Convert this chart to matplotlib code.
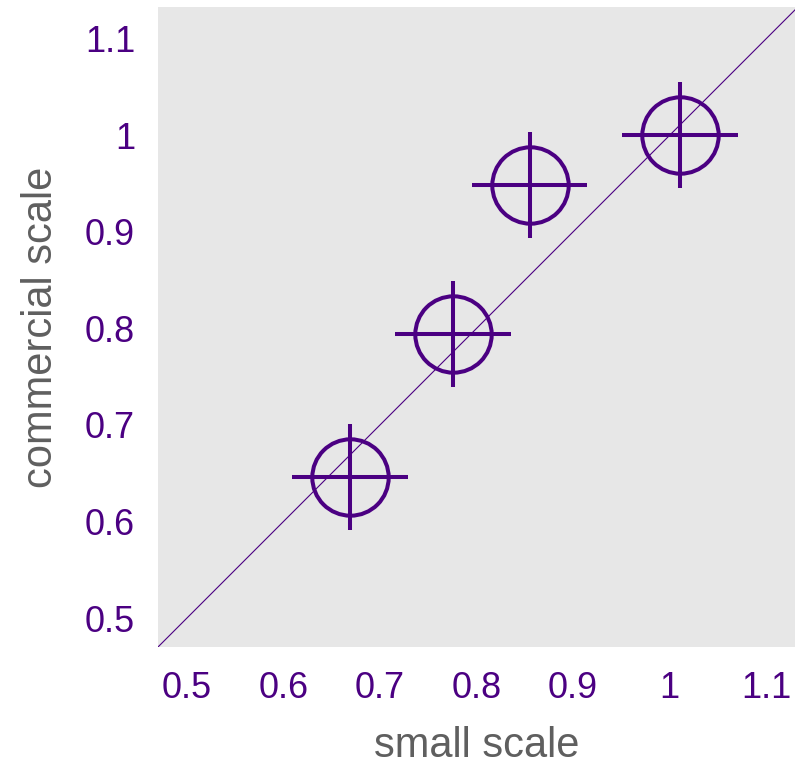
import matplotlib
matplotlib.use('Agg')
import matplotlib.pyplot as plt

# data
small_scale = [0.669, 0.776, 0.855, 1.011]
commercial_scale = [0.646, 0.794, 0.949, 1.0]
small_err = [0.06, 0.06, 0.06, 0.06]
commercial_err = [0.055, 0.055, 0.055, 0.055]
ticks = [0.5, 0.6, 0.7, 0.8, 0.9, 1.0, 1.1]
tick_labels = ['0.5', '0.6', '0.7', '0.8', '0.9', '1', '1.1']
xlims = (0.470, 1.130)
ylims = (0.470, 1.133)

PURPLE = '#4B0082'
GREY = '#5f5f5f'

plt.rcParams['font.family'] = ['Liberation Sans', 'DejaVu Sans']

fig = plt.figure(figsize=(7.95, 7.67), dpi=100)
ax = fig.add_axes([158 / 795, 120 / 767, 637 / 795, 640 / 767])
ax.set_facecolor('#e7e7e7')

# y = x reference line
ax.plot([0.4, 1.2], [0.4, 1.2], color=PURPLE, lw=0.8, zorder=1)
ax.errorbar(small_scale, commercial_scale, xerr=small_err, yerr=commercial_err,
            fmt='o', ms=55, mfc='none', mec=PURPLE, mew=2.9,
            ecolor=PURPLE, elinewidth=2.9, capsize=0, zorder=3)

ax.set_xlim(xlims)
ax.set_ylim(ylims)
ax.set_xticks(ticks)
ax.set_xticklabels(tick_labels)
ax.set_yticks(ticks)
ax.set_yticklabels(tick_labels)
ax.tick_params(length=0, labelsize=26, labelcolor=PURPLE)
ax.tick_params(axis='x', pad=17)
ax.tick_params(axis='y', pad=16.5)
for s in ax.spines.values():
    s.set_visible(False)

ax.set_xlabel('small scale', fontsize=30, color=GREY, labelpad=15)
ax.set_ylabel('commercial scale', fontsize=30, color=GREY, labelpad=17)

fig.savefig('out.png', dpi=100)
